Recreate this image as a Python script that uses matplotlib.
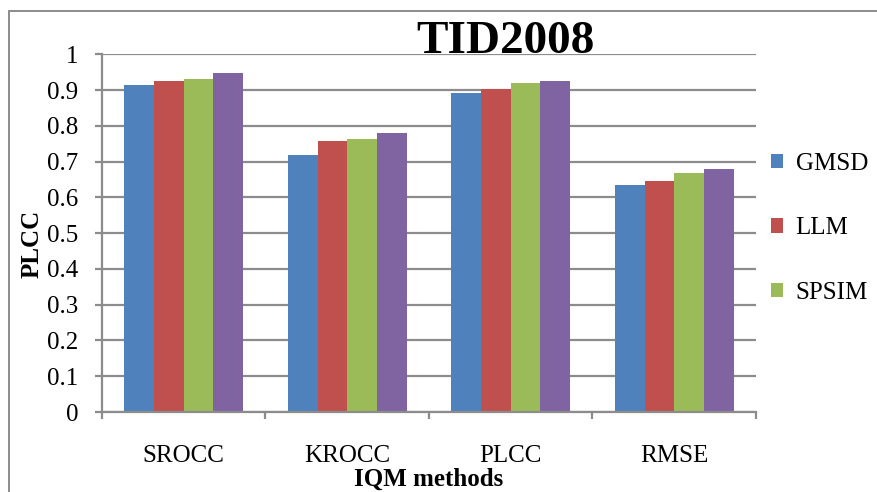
import matplotlib.pyplot as plt
import numpy as np
from matplotlib.patches import Rectangle

plt.rcParams['font.family'] = ['Liberation Serif', 'DejaVu Serif']

categories = ["SROCC", "KROCC", "PLCC", "RMSE"]
series_names = ["GMSD", "LLM", "SPSIM", "Proposed"]
gmsd = [0.914, 0.719, 0.892, 0.636]
llm = [0.926, 0.758, 0.903, 0.647]
spsim = [0.932, 0.764, 0.920, 0.669]
proposed = [0.948, 0.781, 0.925, 0.680]
yticks = [0, 0.1, 0.2, 0.3, 0.4, 0.5, 0.6, 0.7, 0.8, 0.9, 1]
ytick_labels = ["0", "0.1", "0.2", "0.3", "0.4", "0.5", "0.6", "0.7", "0.8", "0.9", "1"]

colors = ["#4F81BD", "#C0504D", "#9BBB59", "#8064A2"]
grid_gray = "#8C8C8C"

fig = plt.figure(figsize=(8.77, 4.92), dpi=100)
ax = fig.add_axes([0.1163, 0.1626, 0.7457, 0.727])

x = np.arange(len(categories))
w = 1 / 5.5  # 4 bars + 150% gap
bars = []
for i, vals in enumerate([gmsd, llm, spsim, proposed]):
    b = ax.bar(x + (i - 1.5) * w, vals, w, color=colors[i], label=series_names[i], zorder=3)
    bars.append(b)

ax.set_xlim(-0.5, len(categories) - 0.5)
ax.set_ylim(0, 1)
ax.set_yticks(yticks)
ax.set_yticklabels(ytick_labels)
ax.set_xticks(x)
ax.set_xticklabels(categories)
ax.set_xticks(np.arange(len(categories) + 1) - 0.5, minor=True)

ax.yaxis.grid(True, color=grid_gray, linewidth=1.6, zorder=1)
ax.set_axisbelow(True)
for s in ["top", "right"]:
    ax.spines[s].set_visible(False)
for s in ["left", "bottom"]:
    ax.spines[s].set_color(grid_gray)
    ax.spines[s].set_linewidth(1.6)
    ax.spines[s].set_zorder(4)

ax.tick_params(axis="y", length=5, width=1.6, color=grid_gray, pad=12, labelsize=18)
ax.tick_params(axis="x", which="major", length=0, pad=24, labelsize=18)
ax.tick_params(axis="x", which="minor", length=5, width=1.6, color=grid_gray)

ax.set_ylabel("PLCC", fontsize=18, fontweight="bold")
ax.yaxis.set_label_coords(-0.09, 0.47)
ax.set_xlabel("IQM methods", fontsize=18, fontweight="bold", labelpad=0)

fig.text(0.576, 0.915, "TID2008", fontsize=34, fontweight="bold", ha="center", va="center")

fig.legend(handles=bars[:3], loc="upper left", bbox_to_anchor=(0.853, 0.735),
           frameon=False, fontsize=18, labelspacing=1.7,
           handlelength=0.5, handleheight=0.5, handletextpad=0.5)

# outer chart border
fig.add_artist(Rectangle((9 / 877, -0.1), 1.2, 1.1 - 10.5 / 492,
                         transform=fig.transFigure, fill=False,
                         edgecolor=grid_gray, linewidth=1.4))

plt.savefig("out.png", dpi=100)
